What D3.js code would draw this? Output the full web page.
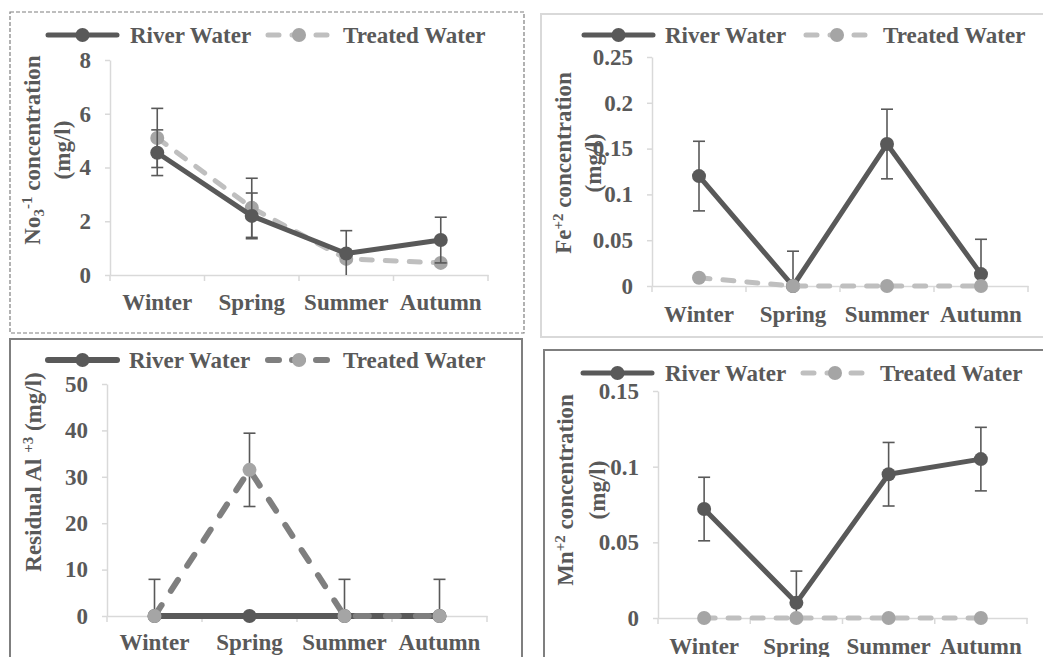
<!DOCTYPE html>
<html>
<head>
<meta charset="utf-8">
<script src="https://cdn.jsdelivr.net/npm/d3@7"></script>
<style>
  body { margin: 0; background: #fff; }
  text { font-family: "Liberation Serif", "Times New Roman", serif; font-weight: bold; fill: #595959; }
</style>
</head>
<body>
<div id="graph"></div>
<script>
// seasons on the x axis, same for all four panels
var seasons = ["Winter", "Spring", "Summer", "Autumn"];

// nitrate
var no3River = [4.55, 2.2, 0.8, 1.3];
var no3Treated = [5.1, 2.5, 0.6, 0.45];
var no3RiverErr = [0.85, 0.85, 0.85, 0.85];
var no3TreatedErr = [1.1, 1.1, 0, 0];
var no3Ticks = [0, 2, 4, 6, 8];

// iron
var feRiver = [0.12, 0, 0.155, 0.013];
var feTreated = [0.009, 0, 0, 0];
var feRiverErr = [0.038, 0.038, 0.038, 0.038];
var feTreatedErr = [0, 0, 0, 0];
var feTicks = [0, 0.05, 0.1, 0.15, 0.2, 0.25];

// residual aluminium
var alRiver = [0, 0, 0, 0];
var alTreated = [0, 31.5, 0, 0];
var alRiverErr = [0, 0, 0, 0];
var alTreatedErr = [7.9, 7.9, 7.9, 7.9];
var alTicks = [0, 10, 20, 30, 40, 50];

// manganese
var mnRiver = [0.072, 0.01, 0.095, 0.105];
var mnTreated = [0, 0, 0, 0];
var mnRiverErr = [0.021, 0.021, 0.021, 0.021];
var mnTreatedErr = [0, 0, 0, 0];
var mnTicks = [0, 0.05, 0.1, 0.15];

var width = 1043;
var height = 657;
var dark = "#595959";

var svg = d3.select("#graph").append("svg")
    .attr("width", width)
    .attr("height", height);

// panel frames
svg.append("rect").attr("x", 10).attr("y", 12).attr("width", 514).attr("height", 321)
    .attr("fill", "none").attr("stroke", "#7f7f7f").attr("stroke-width", 1.2).attr("stroke-dasharray", "4,2");
svg.append("rect").attr("x", 541).attr("y", 14).attr("width", 520).attr("height", 323)
    .attr("fill", "none").attr("stroke", "#d9d9d9").attr("stroke-width", 2);
svg.append("rect").attr("x", 10).attr("y", 339).attr("width", 512).attr("height", 340)
    .attr("fill", "none").attr("stroke", "#7f7f7f").attr("stroke-width", 2);
svg.append("rect").attr("x", 544).attr("y", 350).attr("width", 520).attr("height", 340)
    .attr("fill", "none").attr("stroke", "#7f7f7f").attr("stroke-width", 2);

function drawPanel(p) {
    var g = svg.append("g");
    var x = d3.scaleBand().domain(seasons).range([p.x0, p.x1]);
    var y = d3.scaleLinear().domain([p.ticks[0], p.ticks[p.ticks.length - 1]]).range([p.yBot, p.yTop]);
    var cx = function(i) { return x(seasons[i]) + x.bandwidth() / 2; };

    // y axis
    var ya = g.append("g")
        .attr("transform", "translate(" + p.x0 + ",0)")
        .call(d3.axisLeft(y).tickValues(p.ticks).tickSize(5).tickSizeOuter(0).tickPadding(14)
            .tickFormat(function(d) { return String(d); }));
    ya.select(".domain").attr("stroke", "#d9d9d9").attr("stroke-width", 1.5);
    ya.selectAll(".tick line").attr("stroke", "#d9d9d9").attr("stroke-width", 1.5);
    ya.selectAll("text").attr("fill", dark).style("font-size", "23px");

    // x axis
    var xa = g.append("g")
        .attr("transform", "translate(0," + p.yBot + ")")
        .call(d3.axisBottom(x).tickSize(0).tickSizeOuter(0));
    xa.select(".domain").attr("stroke", "#d9d9d9").attr("stroke-width", 1.5);
    xa.selectAll("text").attr("dy", null).attr("y", p.labelDy).attr("fill", dark).style("font-size", "23px");
    var bounds = seasons.map(function(s) { return x(s); }).concat([p.x1]);
    xa.selectAll(".bound").data(bounds).enter().append("line")
        .attr("x1", function(d) { return d; }).attr("x2", function(d) { return d; })
        .attr("y1", 0).attr("y2", 6)
        .attr("stroke", "#d9d9d9").attr("stroke-width", 1.5);

    // y title
    var t = g.append("g").attr("transform", "translate(" + p.titleX + "," + p.titleY + ") rotate(-90)");
    p.title(t);

    var series = [
        { vals: p.river, err: p.riverErr, color: dark, marker: dark, width: p.riverW, dash: null },
        { vals: p.treated, err: p.treatedErr, color: p.treatedLine, marker: "#a5a5a5", width: p.treatedW, dash: p.dash }
    ];
    if (p.riverOnTop) series.reverse();

    var lo = p.ticks[0], hi = p.ticks[p.ticks.length - 1];
    series.forEach(function(s) {
        var sg = g.append("g");
        // error bars
        s.vals.forEach(function(v, i) {
            var e = s.err[i];
            if (!e) return;
            var top = Math.min(v + e, hi), bot = Math.max(v - e, lo);
            sg.append("line").attr("x1", cx(i)).attr("x2", cx(i))
                .attr("y1", y(top)).attr("y2", y(bot))
                .attr("stroke", dark).attr("stroke-width", 1.6);
            if (v + e <= hi) sg.append("line").attr("x1", cx(i) - 6).attr("x2", cx(i) + 6)
                .attr("y1", y(v + e)).attr("y2", y(v + e)).attr("stroke", dark).attr("stroke-width", 1.6);
            if (v - e >= lo) sg.append("line").attr("x1", cx(i) - 6).attr("x2", cx(i) + 6)
                .attr("y1", y(v - e)).attr("y2", y(v - e)).attr("stroke", dark).attr("stroke-width", 1.6);
        });
        var line = d3.line().x(function(d, i) { return cx(i); }).y(function(d) { return y(d); });
        sg.append("path").datum(s.vals).attr("d", line)
            .attr("fill", "none").attr("stroke", s.color).attr("stroke-width", s.width)
            .attr("stroke-linecap", "round").attr("stroke-linejoin", "round")
            .attr("stroke-dasharray", s.dash);
        sg.selectAll("circle").data(s.vals).enter().append("circle")
            .attr("cx", function(d, i) { return cx(i); })
            .attr("cy", function(d) { return y(d); })
            .attr("r", 7).attr("fill", s.marker);
    });

    // legend
    var L = p.legend;
    var lg = g.append("g");
    lg.append("line").attr("x1", L.r0).attr("x2", L.r1).attr("y1", L.y).attr("y2", L.y)
        .attr("stroke", dark).attr("stroke-width", p.riverW).attr("stroke-linecap", "round");
    lg.append("circle").attr("cx", (L.r0 + L.r1) / 2).attr("cy", L.y).attr("r", 7).attr("fill", dark);
    lg.append("text").attr("x", L.rt).attr("y", L.y + 8).style("font-size", "23px").text("River Water");
    lg.append("line").attr("x1", L.t0).attr("x2", L.t1).attr("y1", L.y).attr("y2", L.y)
        .attr("stroke", p.treatedLine).attr("stroke-width", p.treatedW).attr("stroke-linecap", "round")
        .attr("stroke-dasharray", p.legendDash);
    lg.append("circle").attr("cx", (L.t0 + L.t1) / 2).attr("cy", L.y).attr("r", 7).attr("fill", "#a5a5a5");
    lg.append("text").attr("x", L.tt).attr("y", L.y + 8).style("font-size", "23px").text("Treated Water");
}

function twoLineTitle(head, sub, sup, gap) {
    return function(t) {
        var l1 = t.append("text").attr("text-anchor", "middle").attr("y", -gap / 2 + 8).style("font-size", "23px");
        l1.append("tspan").text(head);
        if (sub) l1.append("tspan").attr("baseline-shift", "-25%").style("font-size", "15px").text(sub);
        l1.append("tspan").attr("baseline-shift", "super").style("font-size", "15px").text(sup);
        l1.append("tspan").attr("baseline-shift", "0").text(" concentration");
        t.append("text").attr("text-anchor", "middle").attr("y", gap / 2 + 8).style("font-size", "23px").text("(mg/l)");
    };
}

drawPanel({
    x0: 110, x1: 488, yTop: 60, yBot: 275, ticks: no3Ticks, labelDy: 35,
    river: no3River, treated: no3Treated, riverErr: no3RiverErr, treatedErr: no3TreatedErr,
    riverW: 5, treatedW: 5, treatedLine: "#bfbfbf", dash: "11,13", legendDash: "11,13", riverOnTop: true,
    titleX: 47, titleY: 150, title: twoLineTitle("No", "3", "-1", 30),
    legend: { y: 35, r0: 48, r1: 117, rt: 130, t0: 268, t1: 330, tt: 343 }
});

drawPanel({
    x0: 652, x1: 1028, yTop: 57, yBot: 286, ticks: feTicks, labelDy: 36,
    river: feRiver, treated: feTreated, riverErr: feRiverErr, treatedErr: feTreatedErr,
    riverW: 5, treatedW: 5, treatedLine: "#bfbfbf", dash: "11,13", legendDash: "11,13", riverOnTop: false,
    titleX: 578, titleY: 163, title: twoLineTitle("Fe", null, "+2", 30),
    legend: { y: 35, r0: 584, r1: 653, rt: 665, t0: 806, t1: 868, tt: 883 }
});

drawPanel({
    x0: 107, x1: 487, yTop: 384, yBot: 616, ticks: alTicks, labelDy: 34,
    river: alRiver, treated: alTreated, riverErr: alRiverErr, treatedErr: alTreatedErr,
    riverW: 6, treatedW: 6, treatedLine: "#7f7f7f", dash: "13,17", legendDash: "11,13", riverOnTop: false,
    titleX: 33, titleY: 472,
    title: function(t) {
        var l = t.append("text").attr("text-anchor", "middle").attr("y", 8).style("font-size", "23px");
        l.append("tspan").text("Residual Al ");
        l.append("tspan").attr("baseline-shift", "super").style("font-size", "15px").text("+3");
        l.append("tspan").attr("baseline-shift", "0").text(" (mg/l)");
    },
    legend: { y: 360, r0: 48, r1: 117, rt: 129, t0: 268, t1: 330, tt: 343 }
});

drawPanel({
    x0: 658, x1: 1027, yTop: 391, yBot: 618, ticks: mnTicks, labelDy: 36,
    river: mnRiver, treated: mnTreated, riverErr: mnRiverErr, treatedErr: mnTreatedErr,
    riverW: 5, treatedW: 5, treatedLine: "#bfbfbf", dash: "11,13", legendDash: "11,13", riverOnTop: false,
    titleX: 581, titleY: 490, title: twoLineTitle("Mn", null, "+2", 32),
    legend: { y: 373, r0: 583, r1: 652, rt: 665, t0: 803, t1: 867, tt: 880 }
});
</script>
</body>
</html>
